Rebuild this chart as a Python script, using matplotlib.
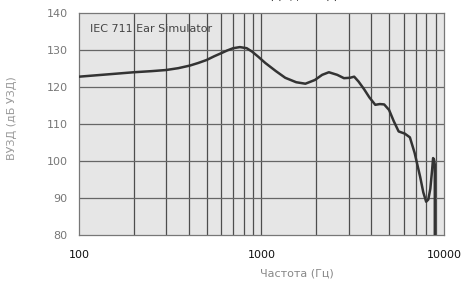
import matplotlib.pyplot as plt
from matplotlib.ticker import FixedLocator, NullFormatter

plt.rcParams['font.family'] = ['DejaVu Sans']

# frequency response
freq = [100, 150, 200, 250, 300, 350, 405, 450, 500, 550, 605, 650, 700, 762,
        830, 887, 960, 1050, 1200, 1350, 1550, 1740, 1960, 2150, 2340, 2600,
        2830, 3050, 3220, 3400, 3650, 3900, 4200, 4450, 4700, 5000, 5300, 5640,
        6100, 6500, 6900, 7400, 7700, 7980, 8200, 8410, 8600, 8710, 8800, 8900,
        8900]
level = [122.8, 123.5, 124.0, 124.3, 124.6, 125.1, 125.8, 126.5, 127.3, 128.3,
         129.2, 129.9, 130.5, 130.8, 130.5, 129.6, 128.2, 126.5, 124.3, 122.5,
         121.3, 120.9, 121.9, 123.3, 124.0, 123.3, 122.4, 122.5, 122.8, 121.5,
         119.4, 117.2, 115.2, 115.4, 115.3, 113.8, 110.8, 108.0, 107.4, 106.4,
         102.2, 95.7, 91.5, 89.0, 89.6, 92.5, 97.5, 100.8, 100.5, 99.0, 75.0]

xticks = [100, 1000, 10000]
xlabels = ['100', '1000', '10000']
yticks = [80, 90, 100, 110, 120, 130, 140]

fig = plt.figure(figsize=(4.64, 2.84), dpi=100)
ax = fig.add_axes([0.170, 0.1725, 0.787, 0.7815])
ax.set_facecolor('#e6e6e6')

ax.set_xscale('log')
ax.set_xlim(100, 10000)
ax.set_ylim(80, 140)

# grid lines: every decade step
minor = [m * d for d in (100, 1000) for m in range(2, 10)]
for f in minor + [1000]:
    ax.axvline(f, color='#4d4d4d', lw=0.9, zorder=1)
for v in yticks[1:-1]:
    ax.axhline(v, color='#666666', lw=0.9, zorder=1)

ax.plot(freq, level, color='#333333', lw=1.8, zorder=3,
        solid_capstyle='round', solid_joinstyle='round')

ax.xaxis.set_major_locator(FixedLocator(xticks))
ax.set_xticklabels(xlabels)
ax.xaxis.set_minor_formatter(NullFormatter())
ax.set_yticks(yticks)
ax.tick_params(axis='both', which='both', length=0)
ax.tick_params(axis='x', pad=11, labelsize=8, labelcolor='#111111')
ax.tick_params(axis='y', pad=8, labelsize=8, labelcolor='#777777')

for s in ax.spines.values():
    s.set_color('#777777')
    s.set_linewidth(0.9)

ax.text(0.03, 0.93, 'IEC 711 Ear Simulator', transform=ax.transAxes,
        fontsize=8, color='#444444', va='center', ha='left')

fig.text(297 / 464, 1 - 273 / 284, 'Частота (Гц)', ha='center', va='center',
         fontsize=8, color='#888888')
fig.text(12 / 464, 1 - 118 / 284, 'ВУЗД (дБ УЗД)', ha='center', va='center',
         rotation=90, fontsize=8, color='#999999')
# title sits above the figure edge, only its lowest part shows
fig.text(0.635, 1 + 1.5 / 284, 'ВУЗД (дБ УЗД)', ha='center', va='baseline',
         fontsize=9, color='#333333')

fig.savefig('out.png', dpi=100)
